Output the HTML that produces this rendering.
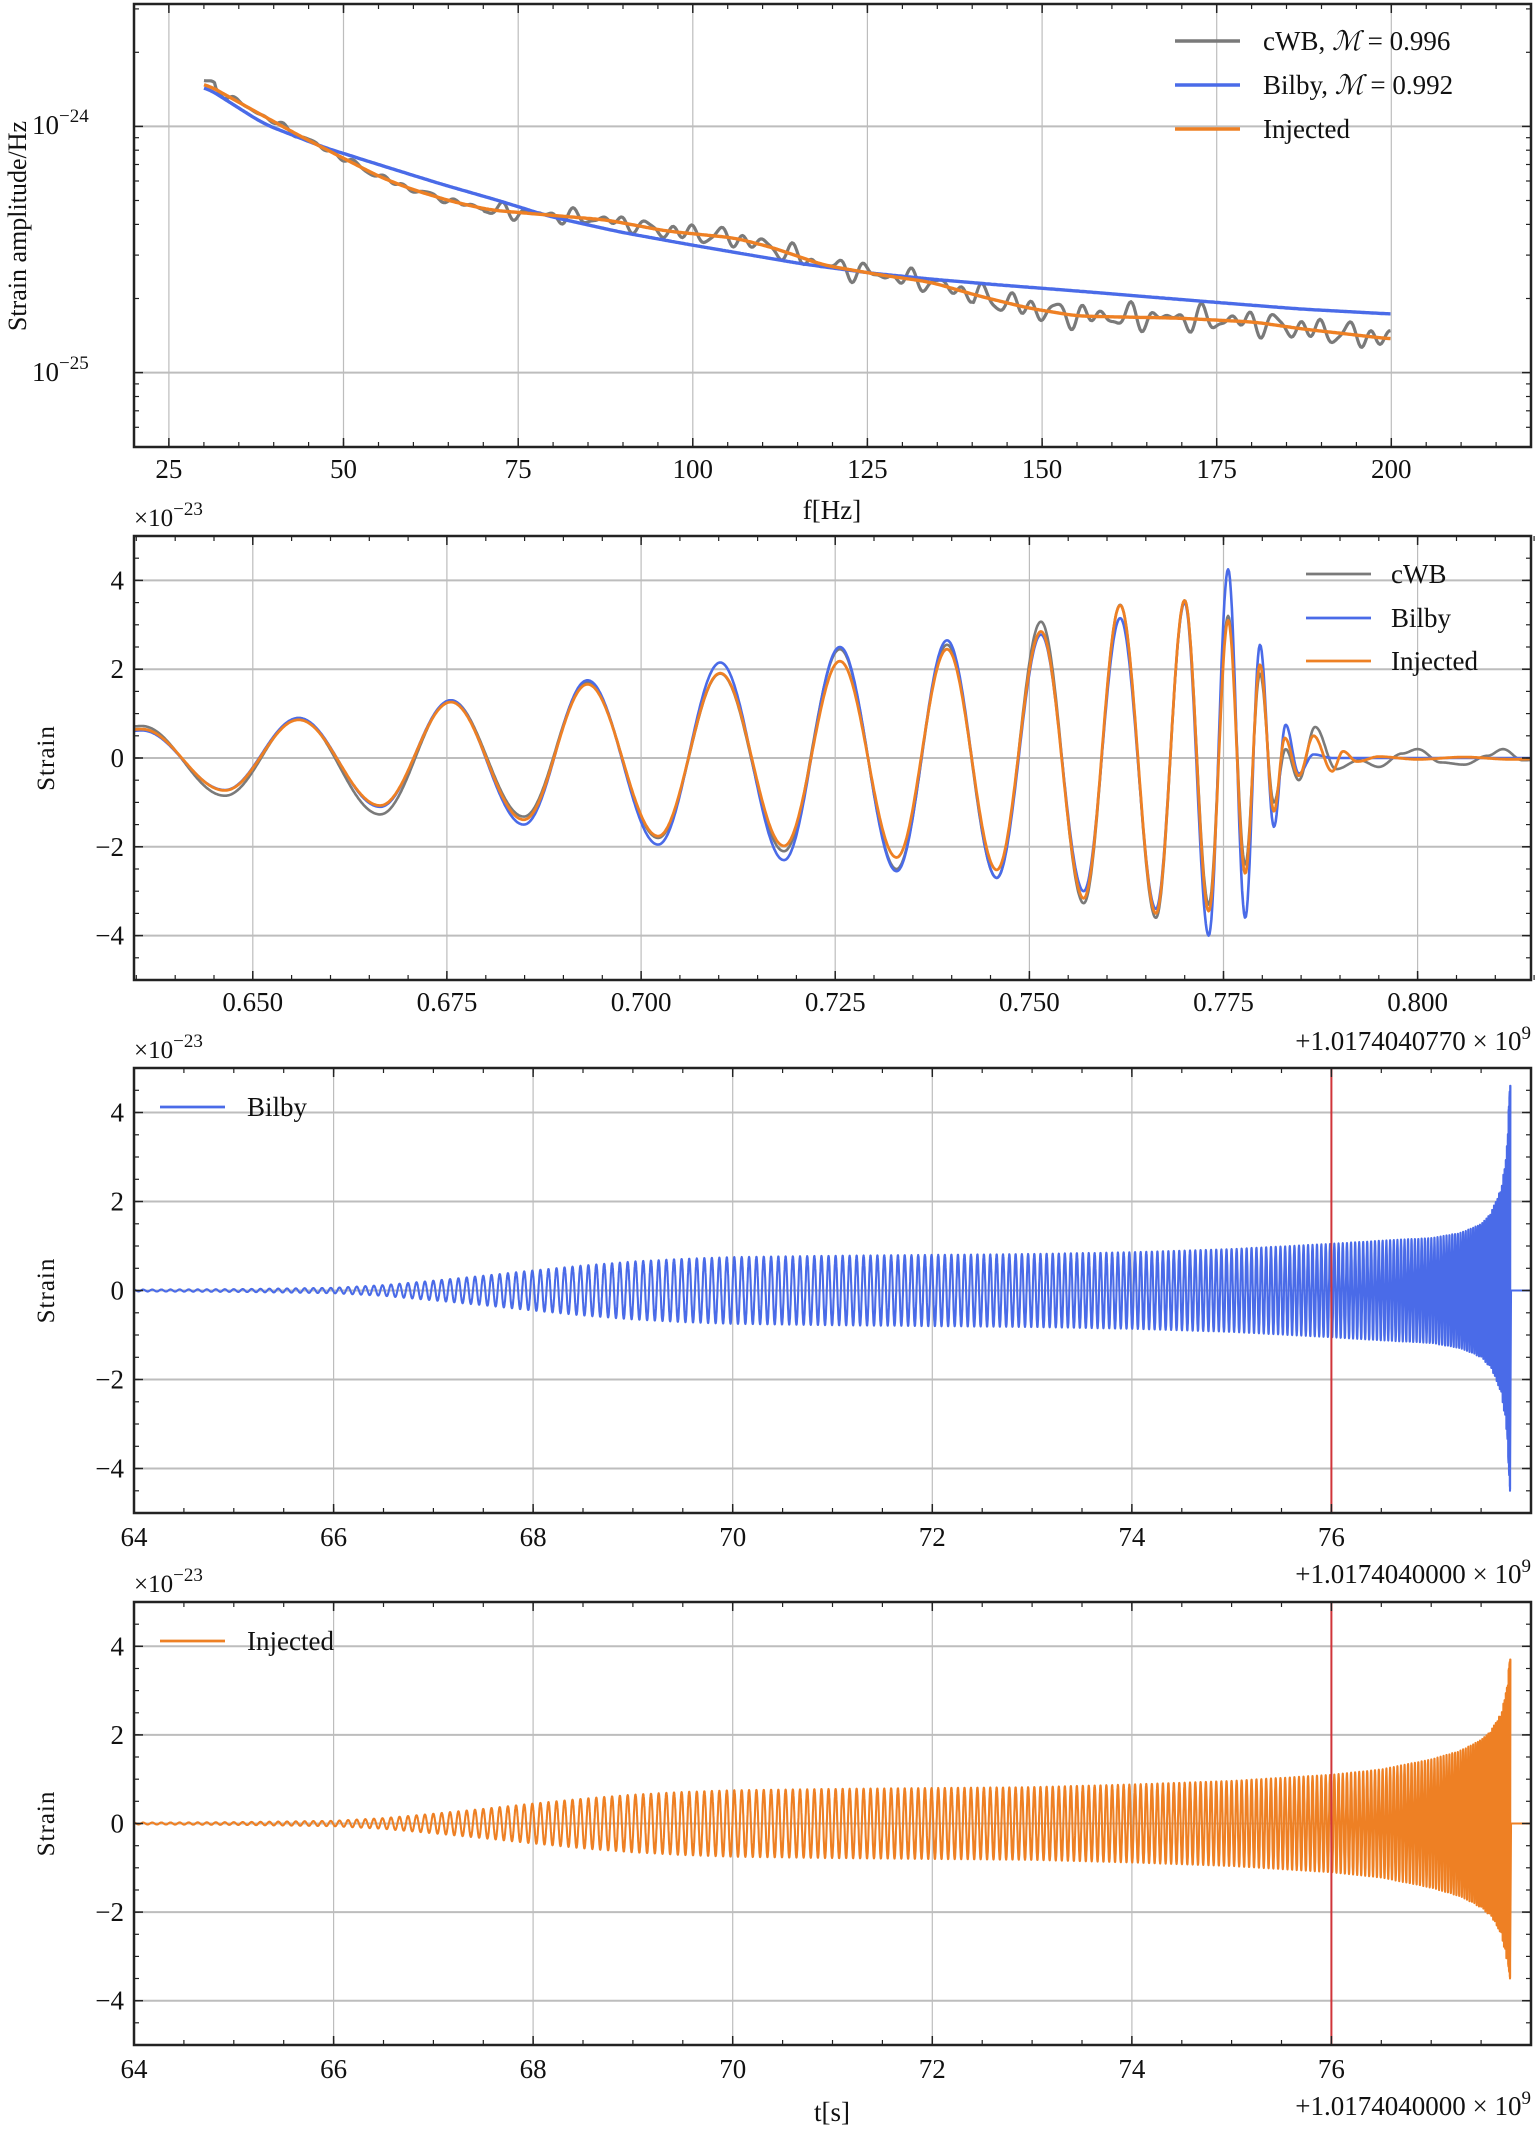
<!DOCTYPE html>
<html><head><meta charset="utf-8">
<style>
html,body{margin:0;padding:0;background:#fff;}
svg{display:block;}
text{font-family:"Liberation Serif","DejaVu Serif",serif;fill:#111;}
</style></head>
<body>
<svg id="s" xmlns="http://www.w3.org/2000/svg" width="1536" height="2131" viewBox="0 0 1536 2131"></svg>
<script>
(function(){
var S=document.getElementById('s');var out=[];
var X0=134,X1=1531;
var panels=[
 {y0:4,y1:447,xl:[20,220],yl:[-25.302,-23.503],log:true},
 {y0:536,y1:980,xl:[0.6347,0.8146],yl:[-5,5]},
 {y0:1068,y1:1513,xl:[64,78],yl:[-5,5]},
 {y0:1602,y1:2045,xl:[64,78],yl:[-5,5]}
];
function fx(p,v){return X0+(v-p.xl[0])/(p.xl[1]-p.xl[0])*(X1-X0);}
function fy(p,v){return p.y1-(v-p.yl[0])/(p.yl[1]-p.yl[0])*(p.y1-p.y0);}
function line(x1,y1,x2,y2,c,w){out.push('<line x1="'+x1.toFixed(1)+'" y1="'+y1.toFixed(1)+'" x2="'+x2.toFixed(1)+'" y2="'+y2.toFixed(1)+'" stroke="'+c+'" stroke-width="'+w+'"/>');}
function txt(x,y,s,sz,anc,extra){out.push('<text x="'+x+'" y="'+y+'" font-size="'+sz+'" text-anchor="'+(anc||'start')+'" '+(extra||'')+'>'+s+'</text>');}
function path(pts,c,w,p){var d='';for(var i=0;i<pts.length;i++){d+=(i?'L':'M')+pts[i][0].toFixed(1)+' '+pts[i][1].toFixed(1);}
 out.push('<path d="'+d+'" fill="none" stroke="'+c+'" stroke-width="'+w+'" stroke-linejoin="round" clip-path="url(#c'+p+')"/>');}
var GRAY='#7a7a7a',BLUE='#4a6be8',ORG='#ee8024',GRID='#bdbdbd';
var defs='<defs>';panels.forEach(function(p,i){defs+='<clipPath id="c'+i+'"><rect x="'+X0+'" y="'+p.y0+'" width="'+(X1-X0)+'" height="'+(p.y1-p.y0)+'"/></clipPath>';});defs+='</defs>';out.push(defs);

function grid(p,xt,yt){
 xt.forEach(function(v){line(fx(p,v),p.y0,fx(p,v),p.y1,GRID,1.2);});
 yt.forEach(function(v){line(X0,fy(p,v),X1,fy(p,v),GRID,2);});
}
function frame(p,xmaj,xmin,ymaj,ymin){
 xmaj.forEach(function(v){var x=fx(p,v);line(x,p.y1,x,p.y1-9,'#222',1.5);line(x,p.y0,x,p.y0+9,'#222',1.5);});
 xmin.forEach(function(v){var x=fx(p,v);line(x,p.y1,x,p.y1-5,'#222',1.2);line(x,p.y0,x,p.y0+5,'#222',1.2);});
 ymaj.forEach(function(v){var y=fy(p,v);line(X0,y,X0+9,y,'#222',1.5);line(X1,y,X1-9,y,'#222',1.5);});
 ymin.forEach(function(v){var y=fy(p,v);line(X0,y,X0+5,y,'#222',1.2);line(X1,y,X1-5,y,'#222',1.2);});
 out.push('<rect x="'+X0+'" y="'+p.y0+'" width="'+(X1-X0)+'" height="'+(p.y1-p.y0)+'" fill="none" stroke="#222" stroke-width="2.5"/>');
}
function rng(a,b,s){var r=[];for(var v=a;v<=b+1e-9;v+=s)r.push(+v.toFixed(6));return r;}

// ---------- Panel 1 ----------
var p=panels[0];
grid(p,rng(25,200,25),[-24,-25]);
var ymin1=[];[-26,-25,-24].forEach(function(e){for(var k=2;k<10;k++){var v=e+Math.log10(k);if(v>p.yl[0]&&v<p.yl[1])ymin1.push(v);}});
var oP=[[204,83],[260,114],[300,136],[343,158],[380,177],[411,189],[450,201],[490,210],[548,215],[607,220],[666,231],[735,238],[774,248],[823,265],[881,275],[930,282],[979,296],[1028,308],[1077,316],[1120,317],[1175,318],[1254,322],[1303,329],[1391,339]];
var bP=[[204,86],[264,124],[323,147],[380,165],[441,184],[500,201],[548,216],[620,232],[686,244],[750,255],[803,264],[870,273],[930,279],[1000,285],[1077,291],[1150,297],[1224,303],[1300,309],[1391,314]];
function interp(pts,x){for(var i=0;i<pts.length-1;i++){if(x<=pts[i+1][0]){var a=pts[i],b=pts[i+1];var s=(x-a[0])/(b[0]-a[0]);return a[1]+(b[1]-a[1])*s;}}return pts[pts.length-1][1];}
function smooth(pts,x){var s=0,n=0;for(var d=-12;d<=12;d+=3){s+=interp(pts,Math.min(Math.max(x+d,pts[0][0]),pts[pts.length-1][0]));n++;}return s/n;}
var o=[],b=[],g=[];
for(var x=204;x<=1391;x+=1.5){var oy=smooth(oP,x);o.push([x,oy]);b.push([x,smooth(bP,x)]);
 var f=20+(x-134)/6.985;var amp=3+(f>70?4:0)+(f>95?2:0)+(f>140?3:0);
 var n=amp*(0.6*Math.sin(x*0.26)+0.45*Math.sin(x*0.17+1.3)+0.35*Math.sin(x*0.37+0.4));
 if(x<215)n-=4;
 g.push([x,oy+n]);}
path(g,GRAY,3.2,0);path(b,BLUE,3.4,0);path(o,ORG,3.4,0);
frame(p,rng(25,200,25),rng(20,220,5),[-24,-25],ymin1);
rng(25,200,25).forEach(function(v){txt(fx(p,v),478,v,27,'middle');});
txt(32,134,'10<tspan dy="-12" font-size="19">−24</tspan>',27);
txt(32,381,'10<tspan dy="-12" font-size="19">−25</tspan>',27);
txt(832,519,'f[Hz]',27,'middle');
txt(26,226,'Strain amplitude/Hz',26,'middle','transform="rotate(-90 26 226)"');
[[GRAY,'cWB, <tspan font-style="italic">ℳ</tspan> = 0.996',41],[BLUE,'Bilby, <tspan font-style="italic">ℳ</tspan> = 0.992',85],[ORG,'Injected',129]].forEach(function(l){line(1175,l[2],1240,l[2],l[0],3.5);txt(1263,l[2]+9,l[1],27);});

// ---------- Panel 2 ----------
p=panels[1];
var xt2=rng(0.65,0.80,0.025);
grid(p,xt2,[-4,-2,0,2,4]);
var oE=[[0.6300,0.5],[0.6357,0.65],[0.6464,-0.73],[0.6559,0.86],[0.6664,-1.07],[0.6755,1.26],[0.6849,-1.39],[0.6931,1.66],[0.7022,-1.76],[0.7102,1.91],[0.7184,-1.98],[0.7256,2.18],[0.7329,-2.24],[0.7394,2.45],[0.7458,-2.52],[0.7515,2.85],[0.757,-3.16],[0.7617,3.44],[0.7663,-3.5],[0.7700,3.55],[0.7731,-3.45],[0.7756,3.1],[0.7778,-2.6],[0.7797,2.1],[0.7815,-1.2],[0.7829,0.45],[0.7847,-0.4],[0.7866,0.5],[0.789,-0.3],[0.7904,0.15],[0.7922,-0.08],[0.795,0.03],[0.80,-0.03],[0.806,0.02],[0.812,-0.03],[0.82,0]];
var bE=[[0.6300,0.5],[0.6357,0.62],[0.6464,-0.72],[0.6559,0.9],[0.6664,-1.1],[0.6755,1.3],[0.6849,-1.5],[0.6931,1.75],[0.7022,-1.95],[0.7102,2.15],[0.7184,-2.3],[0.7256,2.5],[0.7329,-2.55],[0.7394,2.65],[0.7458,-2.7],[0.7515,2.78],[0.757,-3.0],[0.7617,3.15],[0.7663,-3.4],[0.7700,3.5],[0.7731,-4.0],[0.7756,4.25],[0.7778,-3.6],[0.7797,2.55],[0.7815,-1.55],[0.7830,0.75],[0.7847,-0.35],[0.7866,0.08],[0.789,0],[0.82,0]];
var gE=[[0.6300,0.55],[0.6357,0.72],[0.6464,-0.85],[0.6559,0.9],[0.6664,-1.27],[0.6755,1.3],[0.6849,-1.32],[0.6931,1.7],[0.7022,-1.8],[0.7102,1.9],[0.7184,-2.1],[0.7256,2.45],[0.7329,-2.5],[0.7394,2.55],[0.7458,-2.7],[0.7515,3.07],[0.757,-3.27],[0.7617,3.45],[0.7663,-3.6],[0.7700,3.55],[0.7731,-3.3],[0.7756,3.2],[0.7778,-2.4],[0.7797,1.9],[0.7815,-1.0],[0.783,0.2],[0.7847,-0.5],[0.7868,0.7],[0.7895,-0.25],[0.7925,-0.05],[0.795,-0.2],[0.798,0.1],[0.800,0.2],[0.803,-0.1],[0.806,-0.15],[0.809,0.05],[0.811,0.2],[0.8135,-0.05],[0.82,0]];
function wav(E,t){for(var i=0;i<E.length-1;i++){if(t<=E[i+1][0]){var a=E[i],c=E[i+1];var s=(t-a[0])/(c[0]-a[0]);return a[1]+(c[1]-a[1])*(1-Math.cos(Math.PI*s))/2;}}return 0;}
[[gE,GRAY,2.6],[bE,BLUE,2.6],[oE,ORG,2.8]].forEach(function(L){var pts=[];for(var t=0.6340;t<=0.8150;t+=0.00012){pts.push([fx(p,t),fy(p,wav(L[0],t))]);}path(pts,L[1],L[2],1);});
frame(p,xt2,rng(0.635,0.815,0.005),[-4,-2,0,2,4],rng(-5,5,0.5));
xt2.forEach(function(v){txt(fx(p,v),1011,v.toFixed(3),27,'middle');});
[-4,-2,0,2,4].forEach(function(v){txt(124,fy(p,v)+9,(v<0?'−':'')+Math.abs(v),27,'end');});
txt(134,526,'×10<tspan dy="-11" font-size="19">−23</tspan>',25);
txt(1531,1050,'+1.0174040770 × 10<tspan dy="-11" font-size="19">9</tspan>',27,'end');
txt(54,(p.y0+p.y1)/2,'Strain',25,'middle','transform="rotate(-90 54 '+(p.y0+p.y1)/2+')" letter-spacing="1"');
[[GRAY,'cWB',574],[BLUE,'Bilby',618],[ORG,'Injected',661]].forEach(function(l){line(1306,l[2],1371,l[2],l[0],2.8);txt(1391,l[2]+9,l[1],27);});

// ---------- Panels 3 & 4 ----------
function env(t,bil){
 var E=[[64,0.02],[65,0.03],[66,0.06],[66.5,0.12],[67,0.22],[67.5,0.33],[68,0.45],[68.5,0.56],[69,0.65],[69.5,0.71],[70,0.75],[71,0.78],[72,0.8],[73,0.82],[74,0.86],[75,0.93],[76,1.05],[76.5,1.12],[77,1.18],[77.3,1.3],[77.5,1.5],[77.6,1.75],[77.7,2.3],[77.75,3.0],[77.79,4.6]];
 if(!bil)E=[[64,0.02],[65,0.03],[66,0.06],[66.5,0.12],[67,0.22],[67.5,0.33],[68,0.45],[68.5,0.56],[69,0.65],[69.5,0.71],[70,0.75],[71,0.78],[72,0.8],[73,0.82],[74,0.88],[75,0.96],[76,1.1],[76.5,1.22],[77,1.45],[77.3,1.65],[77.5,1.9],[77.6,2.1],[77.7,2.5],[77.75,3.0],[77.79,3.7]];
 for(var i=0;i<E.length-1;i++){if(t<=E[i+1][0]){var a=E[i],c=E[i+1];return a[1]+(c[1]-a[1])*(t-a[0])/(c[0]-a[0]);}}return E[E.length-1][1];
}
[2,3].forEach(function(pi){
 var p=panels[pi];var bil=pi==2;var col=bil?BLUE:ORG;
 var xt=rng(64,76,2);
 grid(p,xt,[-4,-2,0,2,4]);
 var pts=[];var ph=0;var tc=77.8;var dt=0.0012;
 for(var t=64;t<77.795;t+=dt){var f=29*Math.pow(Math.max(tc-t,0.02),-0.375);ph+=2*Math.PI*f*dt;
   var a=env(t,bil);var v=a*Math.cos(ph);if(t>77.77){v=(Math.cos(ph)>0?1:-1)*a*(bil?(Math.cos(ph)>0?1:0.97):(Math.cos(ph)>0?1:0.94));}
   pts.push([fx(p,t),fy(p,v)]);}
 pts.push([fx(p,77.79),fy(p,bil?-4.5:-3.5)]);pts.push([fx(p,77.8),fy(p,0)]);pts.push([fx(p,78),fy(p,0)]);
 path(pts,col,2.1,pi);
 line(fx(p,76),p.y0,fx(p,76),p.y1,'#d0353a',2);
 frame(p,xt,rng(64,78,0.5),[-4,-2,0,2,4],rng(-5,5,0.5));
 xt.forEach(function(v){txt(fx(p,v),p.y1+33,v,27,'middle');});
 [-4,-2,0,2,4].forEach(function(v){txt(124,fy(p,v)+9,(v<0?'−':'')+Math.abs(v),27,'end');});
 txt(134,p.y0-10,'×10<tspan dy="-11" font-size="19">−23</tspan>',25);
 txt(1531,p.y1+70,'+1.0174040000 × 10<tspan dy="-11" font-size="19">9</tspan>',27,'end');
 txt(54,(p.y0+p.y1)/2,'Strain',25,'middle','transform="rotate(-90 54 '+(p.y0+p.y1)/2+')" letter-spacing="1"');
 var lgy=p.y0+39;line(160,lgy,225,lgy,col,2.8);txt(247,lgy+9,bil?'Bilby':'Injected',27);
});
txt(832,2121,'t[s]',27,'middle');
S.innerHTML=out.join('');
})();
</script>
</body></html>
